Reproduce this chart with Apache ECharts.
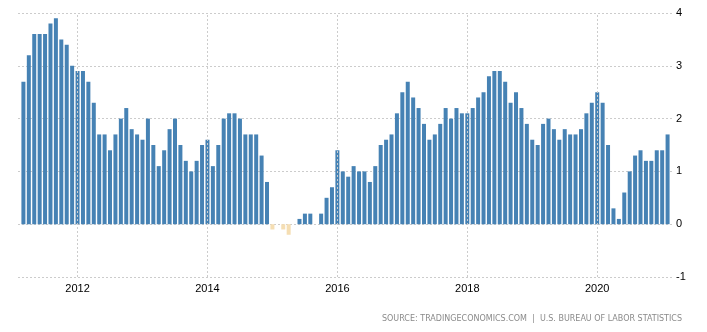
<!DOCTYPE html>
<html>
<head>
<meta charset="utf-8">
<script src="https://cdn.jsdelivr.net/npm/echarts@6/dist/echarts.min.js"></script>
<style>
  html, body { margin: 0; padding: 0; background: #fff; }
  #chart { width: 707px; height: 332px; }
</style>
</head>
<body>
<div id="chart"></div>
<script>
// US consumer price inflation, year-over-year %, monthly Mar 2011 – Feb 2021
const months = [];
for (let y = 2011; y <= 2021; y++) {
  for (let m = 1; m <= 12; m++) {
    if (y === 2011 && m < 3) continue;
    if (y === 2021 && m > 2) break;
    months.push(y + '-' + String(m).padStart(2, '0'));
  }
}

const inflation = [
  // 2011 (Mar–Dec)
  2.7, 3.2, 3.6, 3.6, 3.6, 3.8, 3.9, 3.5, 3.4, 3.0,
  // 2012
  2.9, 2.9, 2.7, 2.3, 1.7, 1.7, 1.4, 1.7, 2.0, 2.2, 1.8, 1.7,
  // 2013
  1.6, 2.0, 1.5, 1.1, 1.4, 1.8, 2.0, 1.5, 1.2, 1.0, 1.2, 1.5,
  // 2014
  1.6, 1.1, 1.5, 2.0, 2.1, 2.1, 2.0, 1.7, 1.7, 1.7, 1.3, 0.8,
  // 2015
  -0.1, 0.0, -0.1, -0.2, 0.0, 0.1, 0.2, 0.2, 0.0, 0.2, 0.5, 0.7,
  // 2016
  1.4, 1.0, 0.9, 1.1, 1.0, 1.0, 0.8, 1.1, 1.5, 1.6, 1.7, 2.1,
  // 2017
  2.5, 2.7, 2.4, 2.2, 1.9, 1.6, 1.7, 1.9, 2.2, 2.0, 2.2, 2.1,
  // 2018
  2.1, 2.2, 2.4, 2.5, 2.8, 2.9, 2.9, 2.7, 2.3, 2.5, 2.2, 1.9,
  // 2019
  1.6, 1.5, 1.9, 2.0, 1.8, 1.6, 1.8, 1.7, 1.7, 1.8, 2.1, 2.3,
  // 2020
  2.5, 2.3, 1.5, 0.3, 0.1, 0.6, 1.0, 1.3, 1.4, 1.2, 1.2, 1.4,
  // 2021 (Jan–Feb)
  1.4, 1.7
];

const yearTicks = ['2012', '2014', '2016', '2018', '2020'];
const yTicks = [-1, 0, 1, 2, 3, 4];

const POS_COLOR = '#4682B4';
const NEG_COLOR = '#F5DEB3';
const GRID_COLOR = '#cccccc';

// bars sit on a month-index scale; year marks at each January
const barData = inflation.map((v, i) => ({
  value: [i, v],
  itemStyle: { color: v < 0 ? NEG_COLOR : POS_COLOR }
}));
const yearIdx = yearTicks.map(y => months.indexOf(y + '-01'));

const chart = echarts.init(document.getElementById('chart'));
chart.setOption({
  animation: false,
  backgroundColor: '#ffffff',
  grid: { left: 18, right: 34, top: 13, bottom: 55 },
  xAxis: {
    type: 'value',
    min: -1,
    max: months.length,
    axisLine: { show: false },
    axisTick: { show: false },
    splitLine: { show: false },
    axisLabel: {
      customValues: yearIdx,
      formatter: v => months[v] ? months[v].slice(0, 4) : '',
      color: '#000',
      fontFamily: 'Liberation Sans, Arial, sans-serif',
      fontSize: 11,
      margin: 6
    }
  },
  yAxis: {
    type: 'value',
    position: 'right',
    min: yTicks[0],
    max: yTicks[yTicks.length - 1],
    interval: 1,
    axisLine: { show: false },
    axisTick: { show: false },
    axisLabel: {
      color: '#000',
      fontFamily: 'Liberation Sans, Arial, sans-serif',
      fontSize: 11,
      margin: 3,
      align: 'left'
    },
    splitLine: { lineStyle: { color: GRID_COLOR, type: [2, 2], width: 1 } }
  },
  series: [
    {
      type: 'line',
      data: [],
      z: 1,
      silent: true,
      markLine: {
        silent: true,
        symbol: ['none', 'none'],
        label: { show: false },
        lineStyle: { color: GRID_COLOR, type: [2, 2], width: 1 },
        data: yearIdx.map(i => ({ xAxis: i }))
      }
    },
    {
      type: 'bar',
      data: barData,
      barWidth: 4,
      z: 3
    }
  ],
  graphic: [{
    type: 'text',
    right: 25,
    top: 315,
    style: {
      text: 'SOURCE: TRADINGECONOMICS.COM  |  U.S. BUREAU OF LABOR STATISTICS',
      fill: '#8a8a8a',
      font: '8px "DejaVu Sans", sans-serif'
    }
  }]
});
</script>
</body>
</html>
